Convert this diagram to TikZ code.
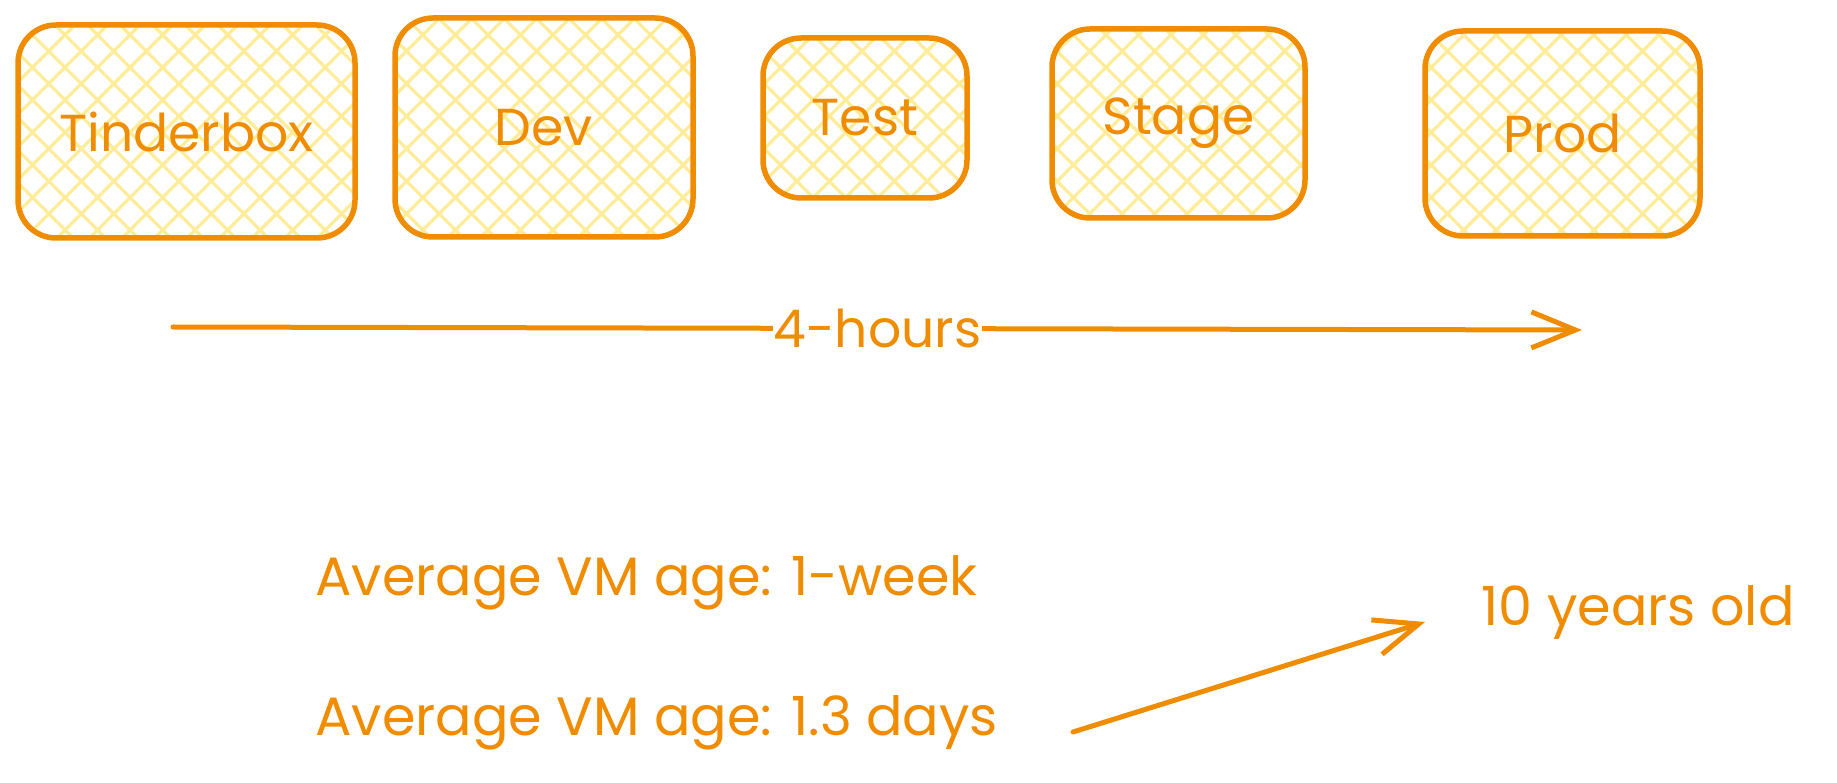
\documentclass[tikz,border=0pt]{standalone}
\usepackage{fontspec}
\setmainfont{Poppins}
\usetikzlibrary{arrows.meta,patterns.meta}
\definecolor{sketchorange}{HTML}{F08C00}
\definecolor{hatchyellow}{HTML}{FFEC99}

\begin{document}
\begin{tikzpicture}
    [x=1pt,y=-1pt,
     every node/.style={text=sketchorange},
     envbox/.style={draw=sketchorange,line width=5.5pt,rounded corners=38pt,
       pattern={Hatch[angle=45,distance=23pt,line width=3.2pt]},pattern color=hatchyellow,
       font=\fontsize{52}{62}\selectfont},
     note/.style={anchor=west,font=\fontsize{54}{64}\selectfont},
     flow/.style={draw=sketchorange,line width=5pt,line cap=round,
       -{Straight Barb[length=44pt,width=36pt,line width=5pt]}}]
    \useasboundingbox (0,0) rectangle (1837,783);
    \node[envbox,minimum width=337pt,minimum height=213pt] (tinderbox) at (186.5,131.5) {Tinderbox};
    \node[envbox,minimum width=298pt,minimum height=219pt] (dev) at (544,127.5) {Dev};
    \node[envbox,minimum width=204pt,minimum height=160pt] (test) at (865,118) {Test};
    \node[envbox,minimum width=253pt,minimum height=189pt] (stage) at (1178.5,123.5) {Stage};
    \node[envbox,minimum width=275pt,minimum height=205pt] (prod) at (1562.5,133.5) {Prod};
    \coordinate (hstart) at (173,327);
    \coordinate (hend) at (1582,330);
    \draw[flow] (hstart) -- node[fill=white,inner sep=1pt,font=\fontsize{52}{62}\selectfont] (hours) {4-hours} (hend);
    \node[note] (week) at (312,583) {Average VM age: 1-week};
    \node[note] (days) at (312,723) {Average VM age: 1.3 days};
    \node[note] (old) at (1478,612) {10 years old};
    \coordinate (astart) at (1073,732);
    \coordinate (aend) at (1425,622);
    \draw[flow] (astart) -- (aend);
  \end{tikzpicture}
\end{document}
